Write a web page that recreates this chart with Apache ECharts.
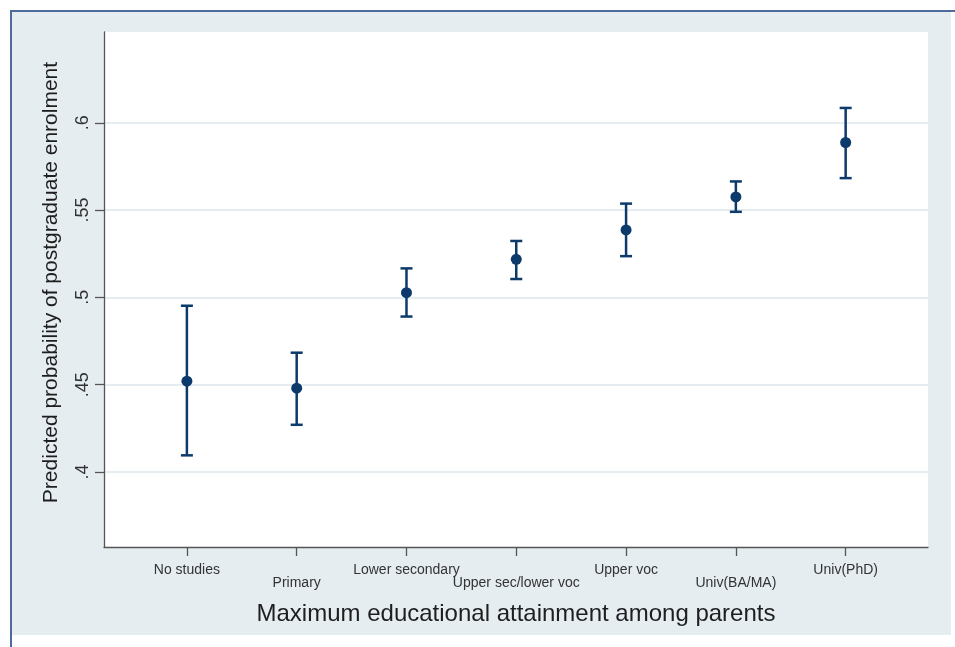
<!DOCTYPE html>
<html>
<head>
<meta charset="utf-8">
<script src="https://cdn.jsdelivr.net/npm/echarts@6/dist/echarts.min.js"></script>
<style>
  html, body { margin: 0; padding: 0; background: #ffffff; }
  #chart { width: 955px; height: 647px; }
</style>
</head>
<body>
<div id="chart"></div>
<script>
// ---- Data ----
const categories = ['No studies', 'Primary', 'Lower secondary', 'Upper sec/lower voc', 'Upper voc', 'Univ(BA/MA)', 'Univ(PhD)'];
const predicted = [0.452, 0.448, 0.5027, 0.5218, 0.5386, 0.5575, 0.5887];
const lowerCI   = [0.4095, 0.427, 0.489, 0.5105, 0.5236, 0.549, 0.5683];
const upperCI   = [0.4952, 0.4683, 0.5166, 0.5323, 0.5537, 0.5664, 0.6085];
const yTicks = [0.4, 0.45, 0.5, 0.55, 0.6];
const yTickLabels = ['.4', '.45', '.5', '.55', '.6'];
const xTitle = 'Maximum educational attainment among parents';
const yTitle = 'Predicted probability of postgraduate enrolment';

const positions = categories.map((c, i) => i + 1);
const markColor = '#0c3a6b';
const font = 'Liberation Sans, Arial, Helvetica, sans-serif';

const pointData = positions.map((x, i) => [x, predicted[i]]);
const ciData = positions.map((x, i) => [x, lowerCI[i], upperCI[i]]);

const chart = echarts.init(document.getElementById('chart'), null, { renderer: 'canvas' });

const option = {
  backgroundColor: '#ffffff',
  animation: false,
  graphic: [
    { type: 'rect', z: -10, silent: true, shape: { x: 11, y: 11, width: 940, height: 624 }, style: { fill: '#e5edf1' } },
    { type: 'line', z: -9, silent: true, shape: { x1: 10, y1: 11, x2: 955, y2: 11 }, style: { stroke: '#4d6c9b', lineWidth: 2 } },
    { type: 'line', z: -9, silent: true, shape: { x1: 11, y1: 11, x2: 11, y2: 647 }, style: { stroke: '#4d6c9b', lineWidth: 2 } }
  ],
  grid: {
    left: 104, top: 32, right: 27, bottom: 100,
    show: true, backgroundColor: '#ffffff', borderWidth: 0
  },
  xAxis: {
    type: 'value',
    min: 0.245, max: 7.75,
    name: xTitle,
    nameLocation: 'middle',
    nameGap: 55,
    nameTextStyle: { fontFamily: font, fontSize: 24, color: '#1e1e1e' },
    axisLine: { show: true, lineStyle: { color: '#555555', width: 1.3 } },
    axisTick: { show: true, length: 9, lineStyle: { color: '#555555', width: 1.3 }, customValues: positions },
    axisLabel: {
      customValues: positions,
      margin: 17,
      fontFamily: font, fontSize: 14, color: '#333333', lineHeight: 13,
      formatter: function (v) {
        const i = Math.round(v) - 1;
        if (i < 0 || i >= categories.length) return '';
        return (i % 2 === 1 ? '\n' : '') + categories[i];
      }
    },
    splitLine: { show: false }
  },
  yAxis: {
    type: 'value',
    min: 0.357, max: 0.652,
    name: yTitle,
    nameLocation: 'middle',
    nameGap: 42,
    nameRotate: 90,
    nameTextStyle: { fontFamily: font, fontSize: 21, color: '#1e1e1e', padding: [0, 0, 0, 14] },
    axisLine: { show: true, lineStyle: { color: '#555555', width: 1.3 } },
    axisTick: { show: true, length: 9, lineStyle: { color: '#555555', width: 1.3 }, customValues: yTicks },
    axisLabel: {
      customValues: yTicks,
      rotate: 90,
      margin: 12,
      fontFamily: font, fontSize: 18, color: '#333333',
      formatter: function (v) {
        const i = yTicks.findIndex(t => Math.abs(t - v) < 1e-9);
        return i >= 0 ? yTickLabels[i] : '';
      }
    },
    splitLine: { show: true, lineStyle: { color: '#e6edf1', width: 2 } }
  },
  series: [
    {
      type: 'custom',
      data: ciData,
      z: 2,
      renderItem: function (params, api) {
        const x = api.value(0);
        const pLo = api.coord([x, api.value(1)]);
        const pHi = api.coord([x, api.value(2)]);
        const w = 6;
        const st = { stroke: markColor, lineWidth: 2.5 };
        return {
          type: 'group',
          children: [
            { type: 'line', shape: { x1: pHi[0], y1: pHi[1], x2: pLo[0], y2: pLo[1] }, style: st },
            { type: 'line', shape: { x1: pHi[0] - w, y1: pHi[1], x2: pHi[0] + w, y2: pHi[1] }, style: st },
            { type: 'line', shape: { x1: pLo[0] - w, y1: pLo[1], x2: pLo[0] + w, y2: pLo[1] }, style: st }
          ]
        };
      }
    },
    {
      type: 'scatter',
      data: pointData,
      z: 3,
      symbol: 'circle',
      symbolSize: 11,
      itemStyle: { color: markColor, opacity: 1 }
    }
  ]
};

chart.setOption(option);
</script>
</body>
</html>
